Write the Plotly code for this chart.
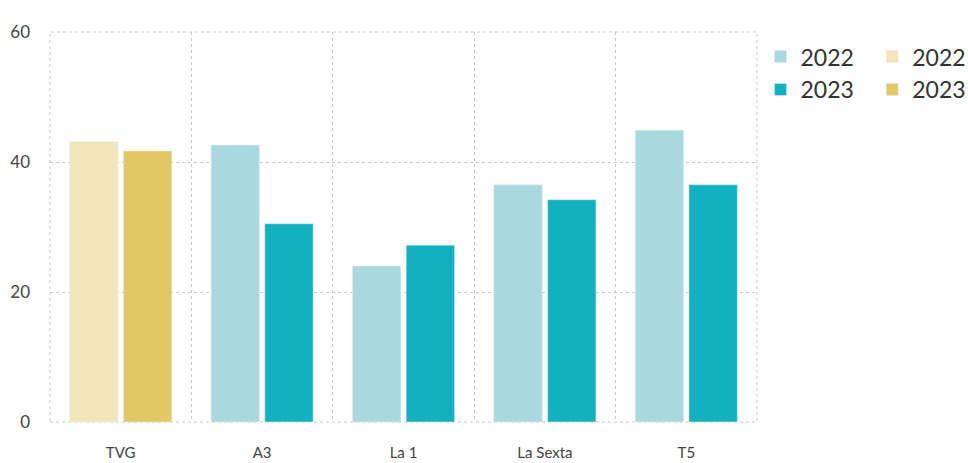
import plotly.graph_objects as go

cats_tvg = ["TVG"]
cats_other = ["A3", "La 1", "La Sexta", "T5"]
all_cats = cats_tvg + cats_other
tvg_2022 = [43.1]
tvg_2023 = [41.7]
other_2022 = [42.6, 24.0, 36.5, 44.9]
other_2023 = [30.5, 27.2, 34.2, 36.5]
y_ticks = [0, 20, 40, 60]

teal_light = "#A9D8DF"
teal_dark = "#13B1BF"
gold_light = "#F2E5BA"
gold_dark = "#E2C767"
grid_col = "#C8C8C8"

fig = go.Figure()
fig.add_trace(go.Bar(x=cats_other, y=other_2022, name="2022", marker_color=teal_light,
                     offsetgroup="a", legend="legend"))
fig.add_trace(go.Bar(x=cats_other, y=other_2023, name="2023", marker_color=teal_dark,
                     offsetgroup="b", legend="legend"))
fig.add_trace(go.Bar(x=cats_tvg, y=tvg_2022, name="2022", marker_color=gold_light,
                     offsetgroup="a", legend="legend2"))
fig.add_trace(go.Bar(x=cats_tvg, y=tvg_2023, name="2023", marker_color=gold_dark,
                     offsetgroup="b", legend="legend2"))

legend_common = dict(font=dict(size=23, color="#333333", family="Lato"),
                     bgcolor="rgba(0,0,0,0)", itemwidth=30,
                     yanchor="top", xanchor="left")

fig.update_layout(
    width=968, height=463,
    margin=dict(l=50, r=211, t=32, b=41, autoexpand=False),
    paper_bgcolor="white", plot_bgcolor="white",
    barmode="group", bargap=0.24, bargroupgap=0.1,
    font=dict(family="Lato", color="#444444", size=15),
    legend=dict(x=1.005, y=0.992, **legend_common),
    legend2=dict(x=1.163, y=0.992, **legend_common),
    shapes=[dict(type="rect", xref="paper", yref="paper", x0=0, x1=1, y0=0, y1=1,
                 line=dict(color=grid_col, width=1, dash="dot"), layer="below")],
)
fig.update_xaxes(
    categoryorder="array", categoryarray=all_cats, automargin=False,
    tickson="boundaries", showgrid=True, gridcolor=grid_col, griddash="dot", gridwidth=1,
    ticks="", ticklabelstandoff=20, tickfont=dict(size=15, color="#444444"),
    showline=False, zeroline=False,
)
fig.update_yaxes(
    range=[0, 60], tickvals=y_ticks, showgrid=True, gridcolor=grid_col, griddash="dot",
    gridwidth=1, zeroline=False, ticks="", ticklabelstandoff=19, automargin=False,
    tickfont=dict(size=17, color="#444444"),
)
fig.write_html("out.html",
               config={"displayModeBar": False},
               post_script="document.body.style.margin='0';document.body.style.overflow='hidden';")
